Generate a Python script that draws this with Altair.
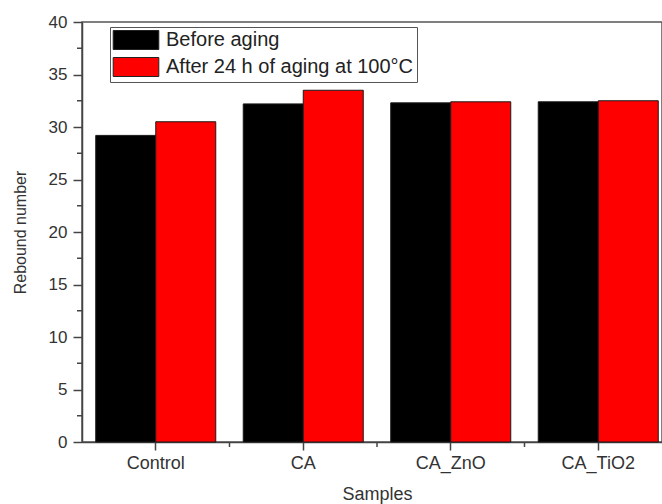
import altair as alt
import pandas as pd

samples = ["Control", "CA", "CA_ZnO", "CA_TiO2"]
before = [29.2, 32.2, 32.3, 32.4]
after = [30.5, 33.5, 32.4, 32.5]
series = ["Before aging", "After 24 h of aging at 100°C"]
colors = ["#000000", "#ff0000"]
y_ticks = [0, 5, 10, 15, 20, 25, 30, 35, 40]
y_minor = [2.5, 7.5, 12.5, 17.5, 22.5, 27.5, 32.5, 37.5]
x_minor = ["CA", "CA_ZnO", "CA_TiO2"]

rows = []
for s, b, a in zip(samples, before, after):
    rows.append({"Samples": s, "Series": series[0], "Value": b})
    rows.append({"Samples": s, "Series": series[1], "Value": a})
df = pd.DataFrame(rows)

FONT = "Liberation Sans"
AX = "#444444"
TXT = "#333333"

xscale = alt.Scale(domain=samples, range=[0, 590], paddingInner=0, paddingOuter=0)
yscale = alt.Scale(domain=[0, 40], nice=False)

xaxis = alt.Axis(labelAngle=0, labelFontSize=18, labelFont=FONT, labelColor=TXT,
                 tickSize=8, tickWidth=1.5, tickColor=AX, domainColor=AX, domainWidth=1.5,
                 labelPadding=4, titleFontSize=18, titleFont=FONT, titleColor=TXT,
                 titleFontWeight="normal", titlePadding=13, grid=False)
yaxis = alt.Axis(values=y_ticks, labelFontSize=17, labelFont=FONT, labelColor=TXT,
                 tickSize=9, tickWidth=1.5, tickColor=AX, domainColor=AX, domainWidth=1.5,
                 labelPadding=6, titleFontSize=16, titleFont=FONT, titleColor=TXT,
                 titleFontWeight="normal", titlePadding=20, grid=False)

bars = alt.Chart(df).mark_bar(stroke="#1a1a1a", strokeWidth=1).encode(
    x=alt.X("Samples:N", scale=xscale, sort=samples, title="Samples", axis=xaxis),
    xOffset=alt.XOffset("Series:N", sort=series,
                        scale=alt.Scale(domain=series, paddingOuter=0.229, paddingInner=0)),
    y=alt.Y("Value:Q", scale=yscale, title="Rebound number", axis=yaxis),
    color=alt.Color("Series:N", sort=series, scale=alt.Scale(domain=series, range=colors),
                    legend=alt.Legend(title=None, orient="none", legendX=28, legendY=5,
                                      direction="vertical",
                                      symbolType="M-2.4,-1L2.4,-1L2.4,1L-2.4,1Z", symbolSize=361,
                                      symbolStrokeColor="#222222", symbolStrokeWidth=1,
                                      symbolOffset=13, labelOffset=20, labelFontSize=20,
                                      labelFont=FONT, labelColor="#222222", labelLimit=500,
                                      strokeColor="#555555", fillColor="white", padding=3,
                                      rowPadding=3)),
)

yminor = alt.Chart(pd.DataFrame({"Value": y_minor})).mark_rule(color=AX, strokeWidth=1.5).encode(
    y=alt.Y("Value:Q", scale=yscale, title="Rebound number", axis=yaxis),
    x=alt.value(-5), x2=alt.value(0),
)

xminor = alt.Chart(pd.DataFrame({"Samples": x_minor})).mark_rule(color=AX, strokeWidth=1.5).encode(
    x=alt.X("Samples:N", scale=xscale, sort=samples, bandPosition=0, title="Samples", axis=xaxis),
    y=alt.value(420), y2=alt.value(425),
)

chart = alt.layer(bars, yminor, xminor).properties(
    width=580, height=420,
    autosize=alt.AutoSizeParams(type="none"),
    padding={"left": 82, "top": 22, "right": 0, "bottom": 62},
    background="white",
).configure_view(stroke="#555555", strokeWidth=1.5)

chart.save("out.html", embed_options={"renderer": "svg", "actions": False})
